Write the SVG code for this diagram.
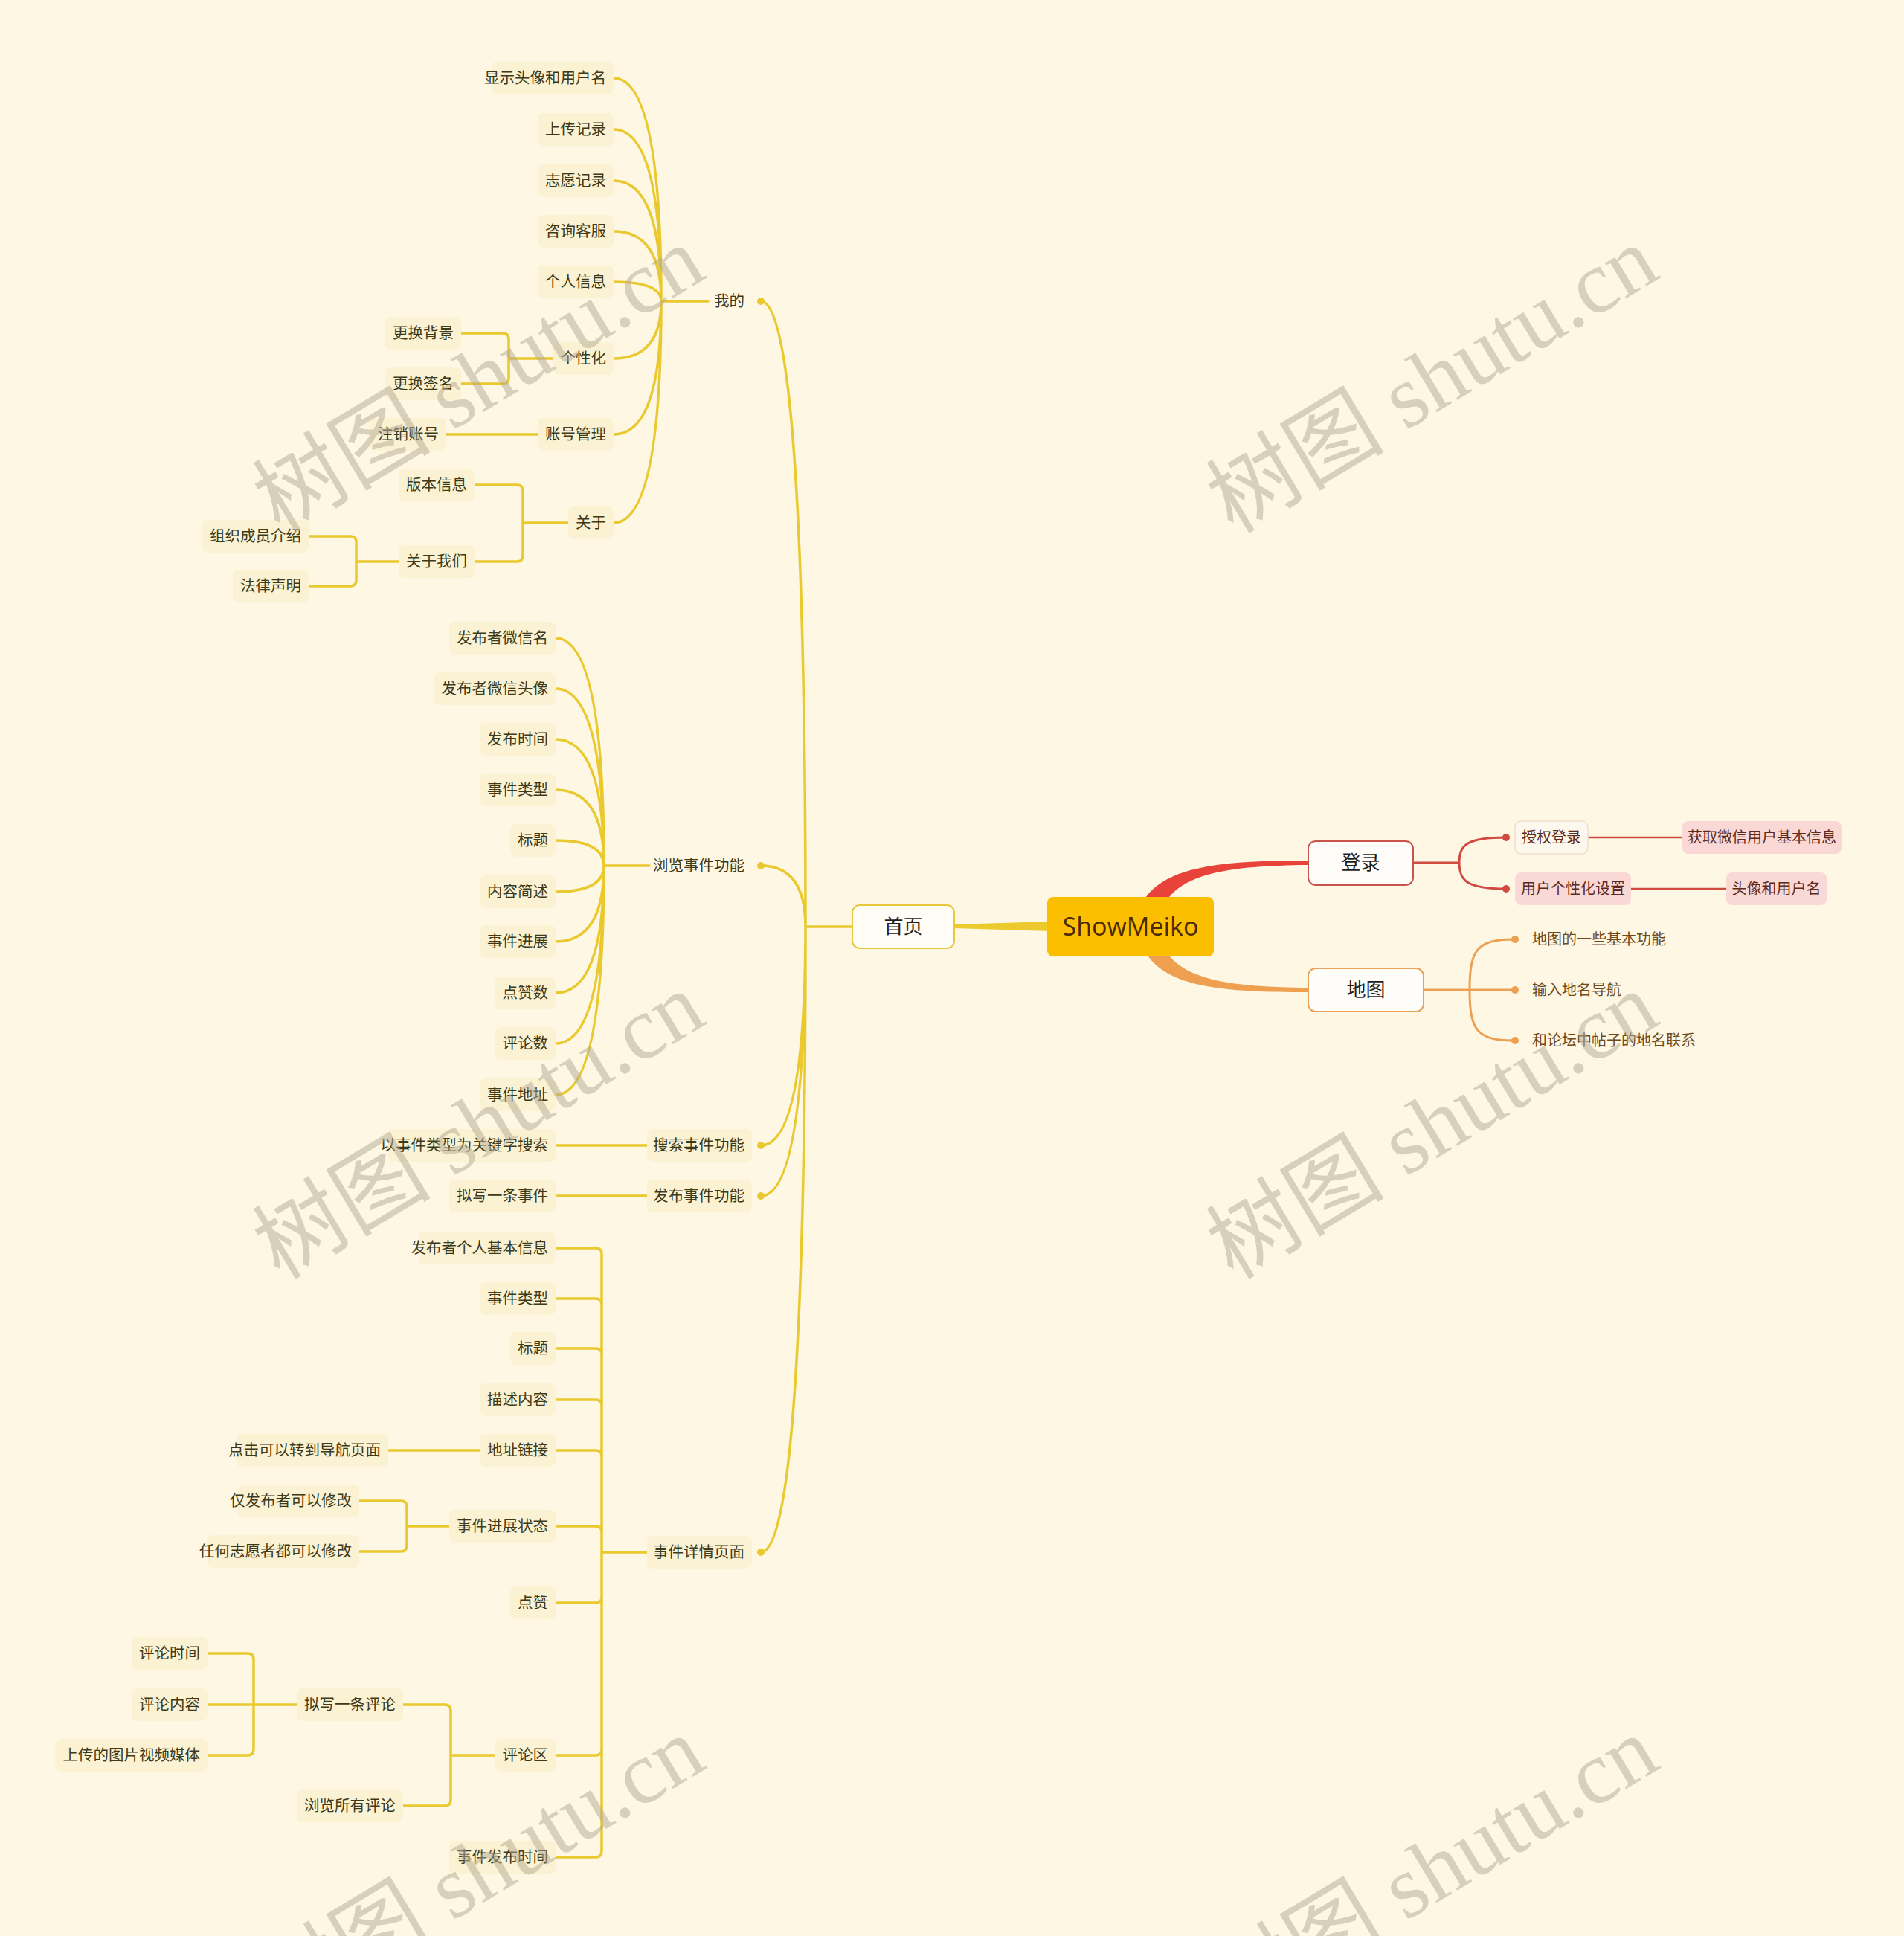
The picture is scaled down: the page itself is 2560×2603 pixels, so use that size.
<svg xmlns="http://www.w3.org/2000/svg" width="2560" height="2603" viewBox="0 0 2560 2603">
<style>
.ln{fill:none;stroke:#eac92f;stroke-width:3.5;stroke-linecap:round}
.dot{fill:#eac92f}
.lf rect{fill:#faf2d2}
.tx{font-family:"Noto Sans CJK SC","Noto Sans",sans-serif;font-size:20.5px;fill:#3d3a1a;text-anchor:end}
.mid{font-family:"Noto Sans CJK SC","Noto Sans",sans-serif;font-size:26px;fill:#1e1e1e;text-anchor:middle}
.rt{font-family:"Noto Sans CJK SC","Noto Sans",sans-serif;font-size:20px;fill:#5e2a20;text-anchor:middle}
.mt{font-family:"Noto Sans CJK SC","Noto Sans",sans-serif;font-size:20px;fill:#6e4a1c}
.pk{fill:#f9d8d5}
.rl{fill:none;stroke:#d04a40;stroke-width:3;stroke-linecap:round}
.ol{fill:none;stroke:#eca052;stroke-width:3;stroke-linecap:round}
.wm{font-family:"Liberation Serif","Noto Sans CJK SC",serif;font-size:120px;fill:#b3aa94;opacity:.5;text-anchor:middle}
</style>
<rect width="2560" height="2603" fill="#fdf7e4"/>

<g id="connectors">
<polygon points="1412,1239 1412,1252 1283,1248 1283,1243" fill="#ecca2e"/>
<path d="M1537,1212 C1565,1165 1640,1157 1759,1157 L1759,1163 C1650,1164 1592,1175 1568,1212 Z" fill="#e8433a"/>
<path d="M1540,1280 C1568,1328 1645,1334 1759,1334 L1759,1328 C1655,1327 1595,1318 1568,1280 Z" fill="#eea050"/>
<path class="rl" d="M1900,1160H1962M1962,1160C1962,1136 1972,1126 2025,1126M1962,1160C1962,1184 1972,1195 2025,1195"/>
<path class="rl" style="stroke-width:2.5" d="M2135,1126H2262M2193,1195H2321"/>
<circle cx="2025" cy="1126" r="5" fill="#d04a40"/>
<circle cx="2025" cy="1195" r="5" fill="#d04a40"/>
<path class="ol" d="M1914,1331H2037M1976,1331C1976,1276 1986,1263 2037,1263M1976,1331C1976,1386 1986,1399 2037,1399"/>
<circle cx="2037" cy="1263" r="5" fill="#eca052"/>
<circle cx="2037" cy="1331" r="5" fill="#eca052"/>
<circle cx="2037" cy="1399" r="5" fill="#eca052"/>

<path class="ln" d="M1146,1246H1083M1083,1246Q1083,405 1023,405M1083,1246Q1083,1164 1023,1164M1083,1246Q1083,1540 1023,1540M1083,1246Q1083,1608 1023,1608M1083,1246Q1083,2087 1023,2087"/>
<circle class="dot" cx="1023" cy="405" r="5"/>
<circle class="dot" cx="1023" cy="1164" r="5"/>
<circle class="dot" cx="1023" cy="1540" r="5"/>
<circle class="dot" cx="1023" cy="1608" r="5"/>
<circle class="dot" cx="1023" cy="2087" r="5"/>

<path class="ln" d="M952,405H889M889,405Q889,105 825,105M889,405Q889,174 825,174M889,405Q889,243 825,243M889,405Q889,311 825,311M889,405Q889,379 825,379M889,405Q889,482 825,482M889,405Q889,584 825,584M889,405Q889,703 825,703"/>
<path class="ln" d="M620,448H676Q684,448 684,456V508Q684,516 676,516H620M684,482H743.5"/>
<path class="ln" d="M600,584H723"/>
<path class="ln" d="M638,652H695Q703,652 703,660V747Q703,755 695,755H638M703,703H764"/>
<path class="ln" d="M415,721H471Q479,721 479,729V780Q479,788 471,788H415M479,755H536"/>

<path class="ln" d="M873,1164H812M812,1164Q812,858 747,858M812,1164Q812,926 747,926M812,1164Q812,994 747,994M812,1164Q812,1062 747,1062M812,1164Q812,1130 747,1130M812,1164Q812,1199 747,1199M812,1164Q812,1266 747,1266M812,1164Q812,1335 747,1335M812,1164Q812,1403 747,1403M812,1164Q812,1472 747,1472"/>
<path class="ln" d="M747,1540H870M747,1608H870"/>

<path class="ln" d="M870,2087H809M809,1686V2489M747,1678H801Q809,1678 809,1686M747,1746H801Q809,1746 809,1754M747,1813H801Q809,1813 809,1821M747,1882H801Q809,1882 809,1890M747,1950H801Q809,1950 809,1958M747,2052H801Q809,2052 809,2060M747,2155H801Q809,2155 809,2147M747,2360H801Q809,2360 809,2352M747,2497H801Q809,2497 809,2489"/>
<path class="ln" d="M522,1950H645"/>
<path class="ln" d="M483,2018H539Q547,2018 547,2026V2078Q547,2086 539,2086H483M547,2052H604"/>
<path class="ln" d="M279,2223H333Q341,2223 341,2231V2352Q341,2360 333,2360H279M279,2292H399"/>
<path class="ln" d="M542,2292H598Q606,2292 606,2300V2420Q606,2428 598,2428H542M606,2360H665.5"/>
</g>

<g id="root"><rect x="1408" y="1206" width="224" height="80" rx="8" fill="#fcbf00"/><text x="1520" y="1258" font-family="Open Sans, Liberation Sans, sans-serif" font-size="34" fill="#4b2a06" text-anchor="middle">ShowMeiko</text></g>
<g id="n-shouye"><rect x="1146" y="1217" width="137" height="58" rx="10" fill="#fffdf6" stroke="#e6c83a" stroke-width="2"/><text class="mid" x="1214.5" y="1255">首页</text></g>
<g id="n-denglu"><rect x="1759" y="1131" width="141" height="59" rx="10" fill="#fffdf9" stroke="#c9544c" stroke-width="2"/><text class="mid" x="1829.5" y="1169">登录</text></g>
<g id="n-ditu"><rect x="1759" y="1302" width="155" height="58" rx="10" fill="#fffdf9" stroke="#e8a35a" stroke-width="2"/><text class="mid" x="1836.5" y="1340">地图</text></g>

<g id="n-shouquan"><rect x="2037" y="1104" width="98" height="44" rx="8" fill="#fdf8ee" stroke="#f0dfcc" stroke-width="1.5"/><text class="rt" x="2086" y="1133">授权登录</text></g>
<g id="n-huoqu"><rect class="pk" x="2262" y="1104" width="214" height="44" rx="8"/><text class="rt" x="2369" y="1133">获取微信用户基本信息</text></g>
<g id="n-gexinghua-sz"><rect class="pk" x="2037" y="1173" width="156" height="44" rx="8"/><text class="rt" x="2115" y="1202">用户个性化设置</text></g>
<g id="n-touxiang"><rect class="pk" x="2321" y="1173" width="135" height="44" rx="8"/><text class="rt" x="2388.5" y="1202">头像和用户名</text></g>
<g id="n-map1"><text class="mt" x="2060" y="1270">地图的一些基本功能</text></g>
<g id="n-map2"><text class="mt" x="2060" y="1338">输入地名导航</text></g>
<g id="n-map3"><text class="mt" x="2060" y="1406">和论坛中帖子的地名联系</text></g>

<g id="n-wode"><text class="tx" x="1001" y="412">我的</text></g>
<g id="n-liulan"><text class="tx" x="1001" y="1171">浏览事件功能</text></g>
<g id="n-sousuo" class="lf"><rect x="870" y="1518" width="141" height="44" rx="8"/><text class="tx" x="1001" y="1547">搜索事件功能</text></g>
<g id="n-fabu" class="lf"><rect x="870" y="1586" width="141" height="44" rx="8"/><text class="tx" x="1001" y="1615">发布事件功能</text></g>
<g id="n-xiangqing" class="lf"><rect x="870" y="2065" width="141" height="44" rx="8"/><text class="tx" x="1001" y="2094">事件详情页面</text></g>

<g id="n-w1" class="lf"><rect x="661.5" y="83" width="163.5" height="44" rx="8"/><text class="tx" x="815" y="112">显示头像和用户名</text></g>
<g id="n-w2" class="lf"><rect x="723" y="152" width="102" height="44" rx="8"/><text class="tx" x="815" y="181">上传记录</text></g>
<g id="n-w3" class="lf"><rect x="723" y="221" width="102" height="44" rx="8"/><text class="tx" x="815" y="250">志愿记录</text></g>
<g id="n-w4" class="lf"><rect x="723" y="289" width="102" height="44" rx="8"/><text class="tx" x="815" y="318">咨询客服</text></g>
<g id="n-w5" class="lf"><rect x="723" y="357" width="102" height="44" rx="8"/><text class="tx" x="815" y="386">个人信息</text></g>
<g id="n-w6" class="lf"><rect x="743.5" y="460" width="81.5" height="44" rx="8"/><text class="tx" x="815" y="489">个性化</text></g>
<g id="n-w7" class="lf"><rect x="723" y="562" width="102" height="44" rx="8"/><text class="tx" x="815" y="591">账号管理</text></g>
<g id="n-w8" class="lf"><rect x="764" y="681" width="61" height="44" rx="8"/><text class="tx" x="815" y="710">关于</text></g>
<g id="n-w6a" class="lf"><rect x="518" y="426" width="102" height="44" rx="8"/><text class="tx" x="610" y="455">更换背景</text></g>
<g id="n-w6b" class="lf"><rect x="518" y="494" width="102" height="44" rx="8"/><text class="tx" x="610" y="523">更换签名</text></g>
<g id="n-w7a" class="lf"><rect x="498" y="562" width="102" height="44" rx="8"/><text class="tx" x="590" y="591">注销账号</text></g>
<g id="n-w8a" class="lf"><rect x="536" y="630" width="102" height="44" rx="8"/><text class="tx" x="628" y="659">版本信息</text></g>
<g id="n-w8b" class="lf"><rect x="536" y="733" width="102" height="44" rx="8"/><text class="tx" x="628" y="762">关于我们</text></g>
<g id="n-w8b1" class="lf"><rect x="272" y="699" width="143" height="44" rx="8"/><text class="tx" x="405" y="728">组织成员介绍</text></g>
<g id="n-w8b2" class="lf"><rect x="313" y="766" width="102" height="44" rx="8"/><text class="tx" x="405" y="795">法律声明</text></g>

<g id="n-l1" class="lf"><rect x="604" y="836" width="143" height="44" rx="8"/><text class="tx" x="737" y="865">发布者微信名</text></g>
<g id="n-l2" class="lf"><rect x="583.5" y="904" width="163.5" height="44" rx="8"/><text class="tx" x="737" y="933">发布者微信头像</text></g>
<g id="n-l3" class="lf"><rect x="645" y="972" width="102" height="44" rx="8"/><text class="tx" x="737" y="1001">发布时间</text></g>
<g id="n-l4" class="lf"><rect x="645" y="1040" width="102" height="44" rx="8"/><text class="tx" x="737" y="1069">事件类型</text></g>
<g id="n-l5" class="lf"><rect x="686" y="1108" width="61" height="44" rx="8"/><text class="tx" x="737" y="1137">标题</text></g>
<g id="n-l6" class="lf"><rect x="645" y="1177" width="102" height="44" rx="8"/><text class="tx" x="737" y="1206">内容简述</text></g>
<g id="n-l7" class="lf"><rect x="645" y="1244" width="102" height="44" rx="8"/><text class="tx" x="737" y="1273">事件进展</text></g>
<g id="n-l8" class="lf"><rect x="665.5" y="1313" width="81.5" height="44" rx="8"/><text class="tx" x="737" y="1342">点赞数</text></g>
<g id="n-l9" class="lf"><rect x="665.5" y="1381" width="81.5" height="44" rx="8"/><text class="tx" x="737" y="1410">评论数</text></g>
<g id="n-l10" class="lf"><rect x="645" y="1450" width="102" height="44" rx="8"/><text class="tx" x="737" y="1479">事件地址</text></g>
<g id="n-s1" class="lf"><rect x="522" y="1518" width="225" height="44" rx="8"/><text class="tx" x="737" y="1547">以事件类型为关键字搜索</text></g>
<g id="n-f1" class="lf"><rect x="604" y="1586" width="143" height="44" rx="8"/><text class="tx" x="737" y="1615">拟写一条事件</text></g>

<g id="n-d1" class="lf"><rect x="563" y="1656" width="184" height="44" rx="8"/><text class="tx" x="737" y="1685">发布者个人基本信息</text></g>
<g id="n-d2" class="lf"><rect x="645" y="1724" width="102" height="44" rx="8"/><text class="tx" x="737" y="1753">事件类型</text></g>
<g id="n-d3" class="lf"><rect x="686" y="1791" width="61" height="44" rx="8"/><text class="tx" x="737" y="1820">标题</text></g>
<g id="n-d4" class="lf"><rect x="645" y="1860" width="102" height="44" rx="8"/><text class="tx" x="737" y="1889">描述内容</text></g>
<g id="n-d5" class="lf"><rect x="645" y="1928" width="102" height="44" rx="8"/><text class="tx" x="737" y="1957">地址链接</text></g>
<g id="n-d6" class="lf"><rect x="604" y="2030" width="143" height="44" rx="8"/><text class="tx" x="737" y="2059">事件进展状态</text></g>
<g id="n-d7" class="lf"><rect x="686" y="2133" width="61" height="44" rx="8"/><text class="tx" x="737" y="2162">点赞</text></g>
<g id="n-d8" class="lf"><rect x="665.5" y="2338" width="81.5" height="44" rx="8"/><text class="tx" x="737" y="2367">评论区</text></g>
<g id="n-d9" class="lf"><rect x="604" y="2475" width="143" height="44" rx="8"/><text class="tx" x="737" y="2504">事件发布时间</text></g>
<g id="n-d5a" class="lf"><rect x="317.5" y="1928" width="204.5" height="44" rx="8"/><text class="tx" x="512" y="1957">点击可以转到导航页面</text></g>
<g id="n-d6a" class="lf"><rect x="319.5" y="1996" width="163.5" height="44" rx="8"/><text class="tx" x="473" y="2025">仅发布者可以修改</text></g>
<g id="n-d6b" class="lf"><rect x="278.5" y="2064" width="204.5" height="44" rx="8"/><text class="tx" x="473" y="2093">任何志愿者都可以修改</text></g>
<g id="n-d8a" class="lf"><rect x="399" y="2270" width="143" height="44" rx="8"/><text class="tx" x="532" y="2299">拟写一条评论</text></g>
<g id="n-d8b" class="lf"><rect x="399" y="2406" width="143" height="44" rx="8"/><text class="tx" x="532" y="2435">浏览所有评论</text></g>
<g id="n-d8a1" class="lf"><rect x="177" y="2201" width="102" height="44" rx="8"/><text class="tx" x="269" y="2230">评论时间</text></g>
<g id="n-d8a2" class="lf"><rect x="177" y="2270" width="102" height="44" rx="8"/><text class="tx" x="269" y="2299">评论内容</text></g>
<g id="n-d8a3" class="lf"><rect x="74.5" y="2338" width="204.5" height="44" rx="8"/><text class="tx" x="269" y="2367">上传的图片视频媒体</text></g>

<g id="watermarks">
<text class="wm" transform="translate(644,511) rotate(-31)" x="0" y="40">树图 shutu.cn</text>
<text class="wm" transform="translate(1926,511) rotate(-31)" x="0" y="40">树图 shutu.cn</text>
<text class="wm" transform="translate(644,1514) rotate(-31)" x="0" y="40">树图 shutu.cn</text>
<text class="wm" transform="translate(1926,1514) rotate(-31)" x="0" y="40">树图 shutu.cn</text>
<text class="wm" transform="translate(644,2515) rotate(-31)" x="0" y="40">树图 shutu.cn</text>
<text class="wm" transform="translate(1926,2515) rotate(-31)" x="0" y="40">树图 shutu.cn</text>
</g>
</svg>
